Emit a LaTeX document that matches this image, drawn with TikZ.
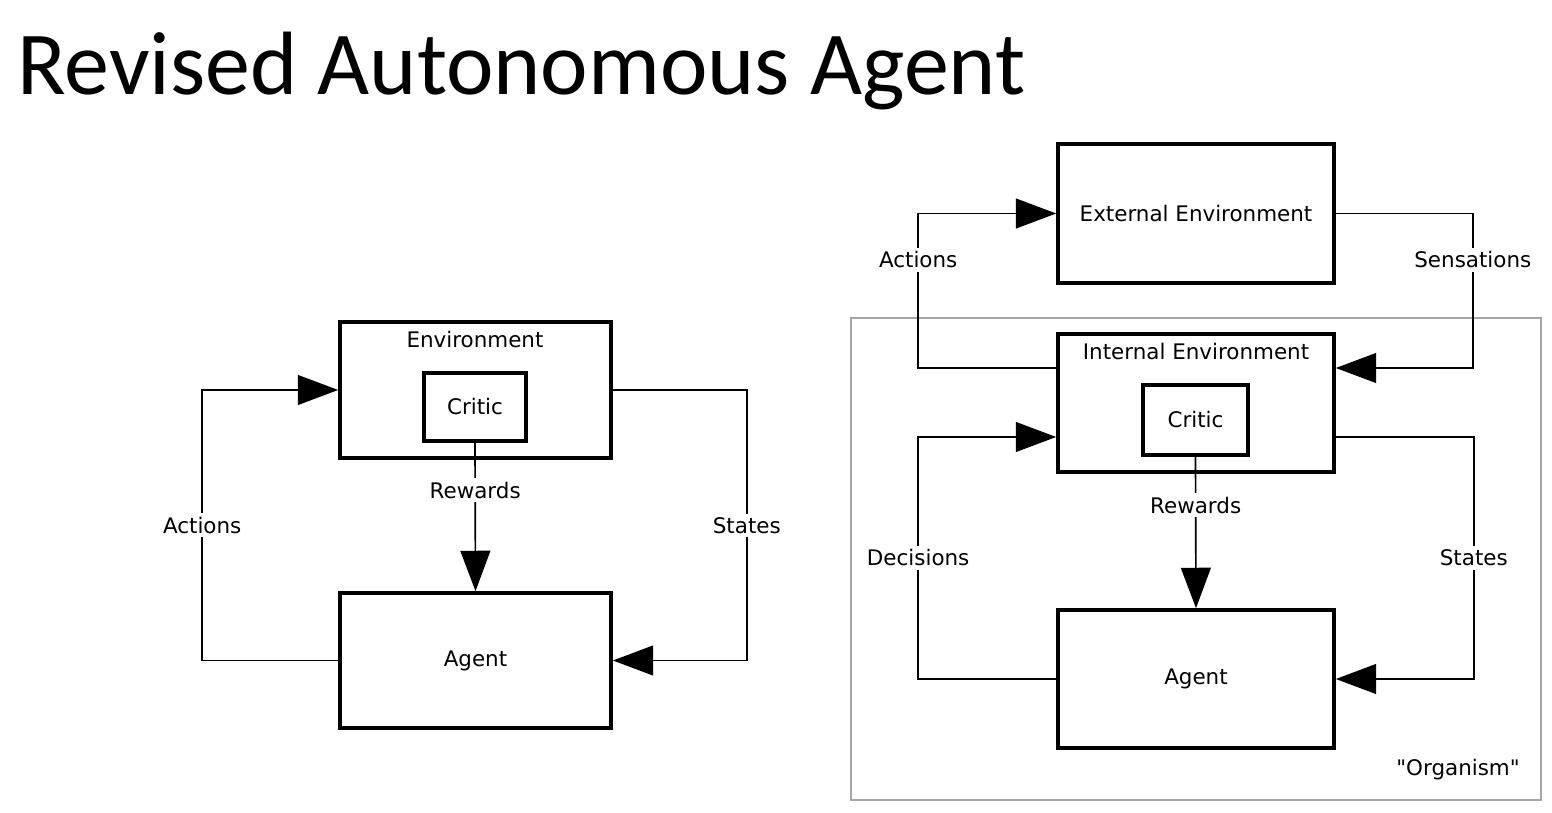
\documentclass[tikz,border=0pt]{standalone}
\usepackage{fontspec}
\setmainfont{DejaVu Sans}
\newfontfamily\titlefont{Carlito}
\usetikzlibrary{arrows.meta}
\newcommand{\lblsize}{\fontsize{12.2}{14}\selectfont}
\newcommand{\dq}{\XeTeXglyph\XeTeXcharglyph"22\relax}
\begin{document}
\begin{tikzpicture}[
    x=0.02cm, y=-0.02cm,
    box/.style={draw, line width=2.1pt, minimum width=5.42cm, minimum height=2.72cm, font=\lblsize},
    critic/.style={draw, line width=1.8pt, minimum width=2.04cm, minimum height=1.36cm, font=\lblsize},
    txt/.style={font=\lblsize, inner sep=1pt},
    lbl/.style={font=\lblsize, fill=white, inner sep=2pt},
    arrow/.style={line width=0.95pt, -{Triangle[length=23pt, width=17pt]}},
    orgbox/.style={draw=gray!70, line width=0.7pt, minimum width=13.8cm, minimum height=9.64cm}
]
    \useasboundingbox (0,0) rectangle (1552,813);
    \node[font=\titlefont\fontsize{51.2}{60}\selectfont, anchor=base west, inner sep=0pt] (title) at (17,95) {Revised Autonomous Agent};

    % left loop
    \node[box] (env) at (475.5,390) {};
    \node[txt] (envlbl) at (475,340) {Environment};
    \node[critic] (critic) at (475,407) {Critic};
    \node[box, minimum height=2.7cm] (agent) at (475.5,660.5) {Agent};

    \draw[arrow] (critic.south) -- node[pos=0.32, lbl] {Rewards} (agent.north);
    \draw[arrow] (agent.west) -- ++(-136,0) |- node[pos=0.25, lbl] {Actions} (env.west);
    \draw[arrow] (env.east) -- ++(134,0) |- node[pos=0.25, lbl] {States} (agent.east);

    % right loop
    \node[orgbox] (org) at (1196,559) {};
    \node[txt] (orglbl) at (1458,770) {\dq Organism\dq};
    \node[box, minimum width=5.52cm, minimum height=2.78cm] (ext) at (1196,213.5) {External Environment};
    \node[box, minimum width=5.52cm, minimum height=2.76cm] (int) at (1196,403) {};
    \node[txt] (intlbl) at (1196,352) {Internal Environment};
    \node[critic, minimum width=2.1cm, minimum height=1.4cm] (critic2) at (1195.5,420) {Critic};
    \node[box, minimum width=5.52cm, minimum height=2.76cm] (agent2) at (1196,679) {Agent};

    \draw[arrow] ([yshift=0.7cm]int.west) -- ++(-138,0) |- node[pos=0.35, lbl] {Actions} (ext.west);
    \draw[arrow] (ext.east) -- ++(137,0) |- node[pos=0.15, lbl] {Sensations} ([yshift=0.7cm]int.east);
    \draw[arrow] (agent2.west) -- ++(-138,0) |- node[pos=0.25, lbl] {Decisions} ([yshift=-0.68cm]int.west);
    \draw[arrow] ([yshift=-0.68cm]int.east) -- ++(138,0) |- node[pos=0.25, lbl] {States} (agent2.east);
    \draw[arrow] (critic2.south) -- node[pos=0.32, lbl] {Rewards} (agent2.north);
\end{tikzpicture}
\end{document}
